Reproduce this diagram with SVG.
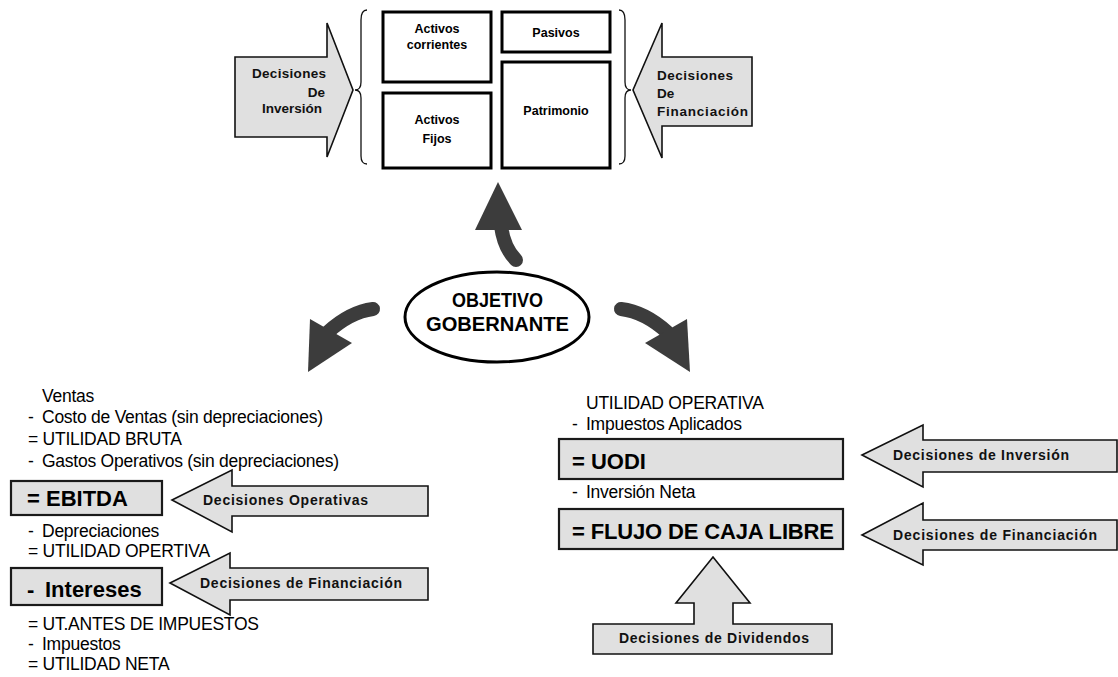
<svg xmlns="http://www.w3.org/2000/svg" width="1118" height="677" viewBox="0 0 1118 677">
<style>
.t{font-family:"Liberation Sans",Arial,sans-serif;fill:#000}
.reg{font-size:17.5px;letter-spacing:-0.25px}
.big{font-size:22px;font-weight:bold}
.lbl{font-size:14px;font-weight:bold;fill:#111}
.tl{font-size:13.5px;font-weight:bold;fill:#111}
.sm{font-size:12.5px;font-weight:bold}
.box{fill:#fff;stroke:#000;stroke-width:3}
.gbox{fill:#e0e0e0;stroke:#1a1a1a;stroke-width:2.2}
.garrow{fill:#e0e0e0;stroke:#111;stroke-width:1.6}
.brace{fill:none;stroke:#111;stroke-width:1.3}
.shaft{fill:none;stroke:#3c3c3c;stroke-width:14;stroke-linecap:round}
.head{fill:#3c3c3c}
</style>
<rect width="1118" height="677" fill="#fff"/>

<g id="decisiones-inversion-top">
<polygon class="garrow" points="235,57 327,57 327,23 353,90 327,157 327,137 235,137"/>
<text class="t tl" x="326" y="78" text-anchor="end" textLength="74">Decisiones</text>
<text class="t tl" x="325" y="97" text-anchor="end">De</text>
<text class="t tl" x="322" y="113" text-anchor="end">Inversión</text>
</g>

<g id="balance">
<path class="brace" d="M367,10 Q361,10 361,20 L361,82 Q361,90 355,90 Q361,90 361,98 L361,156 Q361,164 367,164"/>
<path class="brace" d="M619,10 Q625,10 625,20 L625,82 Q625,90 631,90 Q625,90 625,98 L625,156 Q625,164 619,164"/>
</g>
<g id="activos-corrientes">
<rect class="box" x="383" y="12" width="108" height="70"/>
<text class="t sm" x="437" y="33" text-anchor="middle">Activos</text>
<text class="t sm" x="437" y="49" text-anchor="middle">corrientes</text>
</g>
<g id="activos-fijos">
<rect class="box" x="383" y="93" width="108" height="75"/>
<text class="t sm" x="437" y="124" text-anchor="middle">Activos</text>
<text class="t sm" x="437" y="143" text-anchor="middle">Fijos</text>
</g>
<g id="pasivos">
<rect class="box" x="502" y="12" width="108" height="40"/>
<text class="t sm" x="556" y="37" text-anchor="middle">Pasivos</text>
</g>
<g id="patrimonio">
<rect class="box" x="502" y="62" width="108" height="106"/>
<text class="t sm" x="556" y="115" text-anchor="middle">Patrimonio</text>
</g>

<g id="decisiones-financiacion-top">
<polygon class="garrow" points="752,57 662,57 662,23 633,90 662,158 662,126 752,126"/>
<text class="t tl" x="657" y="80" textLength="76">Decisiones</text>
<text class="t tl" x="657" y="98">De</text>
<text class="t tl" x="657" y="116" textLength="91">Financiación</text>
</g>

<g id="objetivo">
<ellipse cx="497" cy="317" rx="92" ry="45" fill="#fff" stroke="#000" stroke-width="3"/>
<text class="t" x="452" y="307" font-size="21" font-weight="bold" textLength="91" lengthAdjust="spacingAndGlyphs">OBJETIVO</text>
<text class="t" x="426" y="331" font-size="21" font-weight="bold" textLength="143" lengthAdjust="spacingAndGlyphs">GOBERNANTE</text>
</g>

<g id="connectors">
<path class="shaft" d="M516,260 Q504,248 501,226"/>
<polygon class="head" points="498,182 522,230 475,230"/>
<path class="shaft" d="M373,309 Q350,312 328,332"/>
<polygon class="head" points="310,319 352,343 308,372"/>
<path class="shaft" d="M621,309 Q645,312 667,332"/>
<polygon class="head" points="687,319 645,343 690,372"/>
</g>

<g id="estado-resultados">
<text class="t reg" x="42" y="402">Ventas</text>
<text class="t reg" x="28" y="423">-</text><text class="t reg" x="42" y="423">Costo de Ventas (sin depreciaciones)</text>
<text class="t reg" x="28" y="445">= UTILIDAD BRUTA</text>
<text class="t reg" x="28" y="467">-</text><text class="t reg" x="42" y="467">Gastos Operativos (sin depreciaciones)</text>
<text class="t reg" x="28" y="537">-</text><text class="t reg" x="42" y="537">Depreciaciones</text>
<text class="t reg" x="28" y="557">= UTILIDAD OPERTIVA</text>
<text class="t reg" x="28" y="630">= UT.ANTES DE IMPUESTOS</text>
<text class="t reg" x="28" y="650">-</text><text class="t reg" x="42" y="650">Impuestos</text>
<text class="t reg" x="28" y="670">= UTILIDAD NETA</text>
</g>
<g id="ebitda">
<rect class="gbox" x="11" y="481" width="151" height="34"/>
<text class="t big" x="27" y="506">= EBITDA</text>
</g>
<g id="decisiones-operativas">
<polygon class="garrow" points="172,500 232,470 232,486 428,486 428,516 232,516 232,532"/>
<text class="t lbl" x="203" y="505" textLength="165">Decisiones Operativas</text>
</g>
<g id="intereses">
<rect class="gbox" x="11" y="568" width="151" height="37"/>
<text class="t big" x="27" y="597">-</text>
<text class="t big" x="45" y="597">Intereses</text>
</g>
<g id="decisiones-financiacion-left">
<polygon class="garrow" points="170,583 230,553 230,568 428,568 428,600 230,600 230,615"/>
<text class="t lbl" x="200" y="588" textLength="202">Decisiones de Financiación</text>
</g>

<g id="flujo-caja">
<text class="t reg" x="586" y="409">UTILIDAD OPERATIVA</text>
<text class="t reg" x="572" y="430">-</text><text class="t reg" x="586" y="430">Impuestos Aplicados</text>
<text class="t reg" x="572" y="498">-</text><text class="t reg" x="586" y="498">Inversión Neta</text>
</g>
<g id="uodi">
<rect class="gbox" x="559" y="439" width="284" height="40"/>
<text class="t big" x="572" y="469">= UODI</text>
</g>
<g id="fcl">
<rect class="gbox" x="559" y="509" width="284" height="40"/>
<text class="t big" x="572" y="539" textLength="262">= FLUJO DE CAJA LIBRE</text>
</g>
<g id="decisiones-inversion-right">
<polygon class="garrow" points="862,455 923,425 923,440 1117,440 1117,472 923,472 923,487"/>
<text class="t lbl" x="893" y="460" textLength="176">Decisiones de Inversión</text>
</g>
<g id="decisiones-financiacion-right">
<polygon class="garrow" points="862,535 923,503 923,520 1117,520 1117,550 923,550 923,565"/>
<text class="t lbl" x="893" y="540" textLength="204">Decisiones de Financiación</text>
</g>
<g id="decisiones-dividendos">
<polygon class="garrow" points="593,624 694,624 694,603 676,603 713,557 750,603 733,603 733,624 832,624 832,654 593,654"/>
<text class="t lbl" x="619" y="643" textLength="190">Decisiones de Dividendos</text>
</g>
</svg>
